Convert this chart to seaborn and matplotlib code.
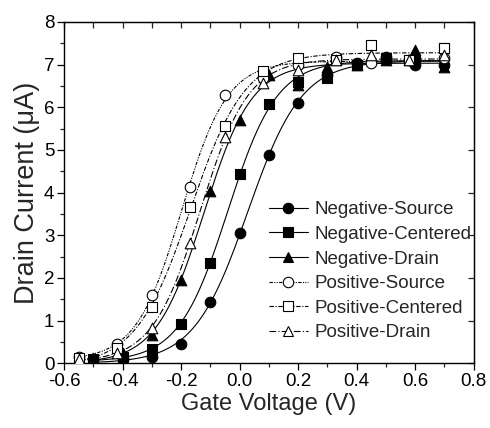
import numpy as np
import pandas as pd
import matplotlib
matplotlib.use("Agg")
import matplotlib.pyplot as plt
from matplotlib.lines import Line2D
import seaborn as sns

# ---- data ----
neg_x = [-0.5, -0.4, -0.3, -0.2, -0.1, 0.0, 0.1, 0.2, 0.3, 0.4, 0.5, 0.6, 0.7]
pos_x = [-0.55, -0.42, -0.3, -0.17, -0.05, 0.08, 0.2, 0.33, 0.45, 0.58, 0.7]

neg_source = [0.09, 0.09, 0.15, 0.45, 1.44, 3.06, 4.88, 6.09, 6.75, 7.03, 7.18, 6.99, 7.00]
neg_centered = [0.10, 0.14, 0.33, 0.92, 2.34, 4.43, 6.07, 6.60, 6.68, 7.00, 7.15, 7.10, 7.38]
neg_drain = [0.12, 0.23, 0.66, 1.95, 4.05, 5.70, 6.76, 6.52, 6.95, 7.00, 7.10, 7.34, 6.95]

pos_source = [0.15, 0.45, 1.60, 4.14, 6.29, 6.69, 7.00, 7.19, 7.03, 7.10, 7.15]
pos_centered = [0.12, 0.35, 1.31, 3.66, 5.56, 6.84, 7.15, 7.10, 7.46, 7.10, 7.38]
pos_drain = [0.10, 0.25, 0.82, 2.81, 5.31, 6.56, 6.88, 7.11, 7.23, 7.11, 7.23]

labels = ["Negative-Source", "Negative-Centered", "Negative-Drain",
          "Positive-Source", "Positive-Centered", "Positive-Drain"]

x_ticks = [-0.6, -0.4, -0.2, 0.0, 0.2, 0.4, 0.6, 0.8]
y_ticks = [0, 1, 2, 3, 4, 5, 6, 7, 8]

series = [
    (labels[0], neg_x, neg_source, "o", "black", "-"),
    (labels[1], neg_x, neg_centered, "s", "black", "-"),
    (labels[2], neg_x, neg_drain, "^", "black", "-"),
    (labels[3], pos_x, pos_source, "o", "white", (0, (3, 1.2, 1, 1.2, 1, 1.2))),
    (labels[4], pos_x, pos_centered, "s", "white", (0, (4, 1.5, 1, 1.5))),
    (labels[5], pos_x, pos_drain, "^", "white", (0, (6, 2, 1, 2))),
]


def boltzmann_fit(x, y):
    """Least-squares Boltzmann sigmoid fit (grid over x0/dx, linear in A1/A2)."""
    x = np.asarray(x, float)
    y = np.asarray(y, float)
    best = None
    for x0 in np.arange(-0.45, 0.35, 0.002):
        for dx in np.arange(0.02, 0.2, 0.002):
            f = 1.0 / (1.0 + np.exp(-(x - x0) / dx))
            A = np.column_stack([np.ones_like(f), f])
            coef, *_ = np.linalg.lstsq(A, y, rcond=None)
            r = np.sum((A @ coef - y) ** 2)
            if best is None or r < best[0]:
                best = (r, x0, dx, coef)
    _, x0, dx, coef = best
    xs = np.linspace(x.min(), x.max(), 200)
    ys = coef[0] + coef[1] / (1.0 + np.exp(-(xs - x0) / dx))
    return xs, ys


sns.set_style("ticks")
plt.rcParams["font.family"] = ["Liberation Sans", "DejaVu Sans"]
plt.rcParams["axes.unicode_minus"] = False

fig = plt.figure(figsize=(4.9, 4.28), dpi=100)
ax = fig.add_axes([64 / 490, 1 - 363.3 / 428, (473.5 - 64) / 490, (363.3 - 22) / 428])

handles = []
for name, xs, ys, mk, fc, ls in series:
    fx, fy = boltzmann_fit(xs, ys)
    fit_df = pd.DataFrame({"x": fx, "y": fy})
    sns.lineplot(data=fit_df, x="x", y="y", ax=ax, color="black", linewidth=0.8,
                 linestyle=ls, sort=False, estimator=None, zorder=2)
    pts = pd.DataFrame({"x": xs, "y": ys})
    sns.scatterplot(data=pts, x="x", y="y", ax=ax, marker=mk, s=58,
                    color=fc, edgecolor="black", linewidth=0.8, zorder=3)
    handles.append(Line2D([], [], color="black", linewidth=0.8, linestyle=ls,
                          marker=mk, markersize=7.5, markerfacecolor=fc,
                          markeredgecolor="black", markeredgewidth=0.8))

ax.set_xlim(-0.6, 0.8)
ax.set_ylim(0, 8)
ax.set_xticks(x_ticks)
ax.set_xticklabels([f"{v:.1f}" for v in x_ticks])
ax.set_yticks(y_ticks)
ax.set_yticklabels([str(v) for v in y_ticks])
ax.set_xticks(np.arange(-0.5, 0.8, 0.2), minor=True)
ax.set_yticks(np.arange(0.5, 8, 1.0), minor=True)
ax.tick_params(which="major", direction="out", length=5, width=0.9, labelsize=13.5,
               pad=2, colors="black")
ax.tick_params(which="minor", direction="out", length=3, width=0.9)
for sp in ax.spines.values():
    sp.set_visible(True)
    sp.set_linewidth(1.0)
    sp.set_color("black")

top = ax.secondary_xaxis("top")
top.set_xticks(np.round(np.arange(-0.6, 0.81, 0.1), 2))
top.tick_params(direction="in", length=4, width=0.9, labeltop=False)
top.set_xticklabels([])
right = ax.secondary_yaxis("right")
right.set_yticks(y_ticks)
right.tick_params(direction="in", length=4, width=0.9, labelright=False)
right.set_yticklabels([])

ax.set_xlabel("Gate Voltage (V)", fontsize=17, labelpad=2)
ax.set_ylabel("Drain Current (\u03bcA)", fontsize=19.5, labelpad=3)

ax.legend(handles, labels, loc="upper left", bbox_to_anchor=(0.5, 0.475),
          frameon=False, fontsize=13.5, handlelength=2.1, handletextpad=0.35,
          labelspacing=0.4, borderpad=0, borderaxespad=0)

fig.savefig("out.png", dpi=100)
